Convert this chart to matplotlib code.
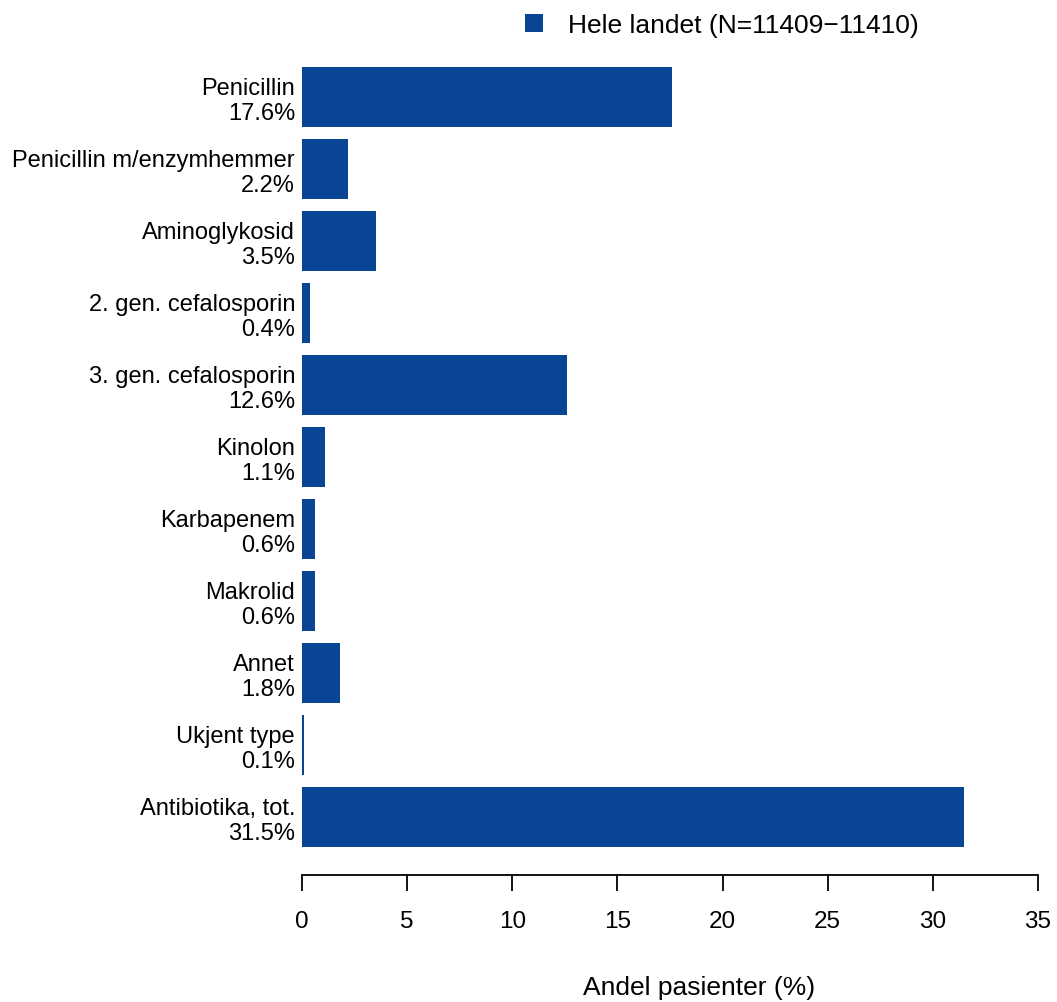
import matplotlib.pyplot as plt
from matplotlib.patches import Patch

# Andel pasienter per antibiotikagruppe
categories = ['Penicillin', 'Penicillin m/enzymhemmer', 'Aminoglykosid',
              '2. gen. cefalosporin', '3. gen. cefalosporin', 'Kinolon',
              'Karbapenem', 'Makrolid', 'Annet', 'Ukjent type',
              'Antibiotika, tot.']
values = [17.6, 2.2, 3.5, 0.4, 12.6, 1.1, 0.6, 0.6, 1.8, 0.1, 31.5]
legend_label = 'Hele landet (N=11409\u221211410)'
xticks = [0, 5, 10, 15, 20, 25, 30, 35]

bar_color = '#084594'
plt.rcParams['font.family'] = ['Liberation Sans', 'DejaVu Sans']

W, H = 1057, 1003
fig = plt.figure(figsize=(W / 100, H / 100), dpi=100)
ax = fig.add_axes([302 / W, 1 - 876 / H, 736 / W, 820 / H])

ypos = list(range(len(categories)))
ax.barh(ypos, values, height=0.833, color=bar_color)

ax.set_xlim(0, 35)
ax.set_ylim(10.806, -0.583)
ax.set_xticks(xticks)
ax.set_xticklabels([str(t) for t in xticks], fontsize=17.5)
ax.set_yticks(ypos)
ax.set_yticklabels([f'{c}\n{v:.1f}%' for c, v in zip(categories, values)],
                   fontsize=17, linespacing=1.15, ha='right')

for s in ['left', 'right', 'top']:
    ax.spines[s].set_visible(False)
ax.spines['bottom'].set_linewidth(1.3)
ax.tick_params(axis='y', length=0, pad=5)
ax.tick_params(axis='x', length=11.5, width=1.3, pad=14)

fig.text(699 / W, 1 - 988 / H, 'Andel pasienter (%)', fontsize=19,
         ha='center', va='center')

handle = Patch(facecolor=bar_color, edgecolor='none')
fig.legend([handle], [legend_label], loc='center left',
           bbox_to_anchor=(501 / W, 1 - 26 / H), frameon=False,
           fontsize=19, handlelength=0.7, handleheight=0.7,
           handletextpad=0.95)

fig.savefig('out.png', dpi=100)
